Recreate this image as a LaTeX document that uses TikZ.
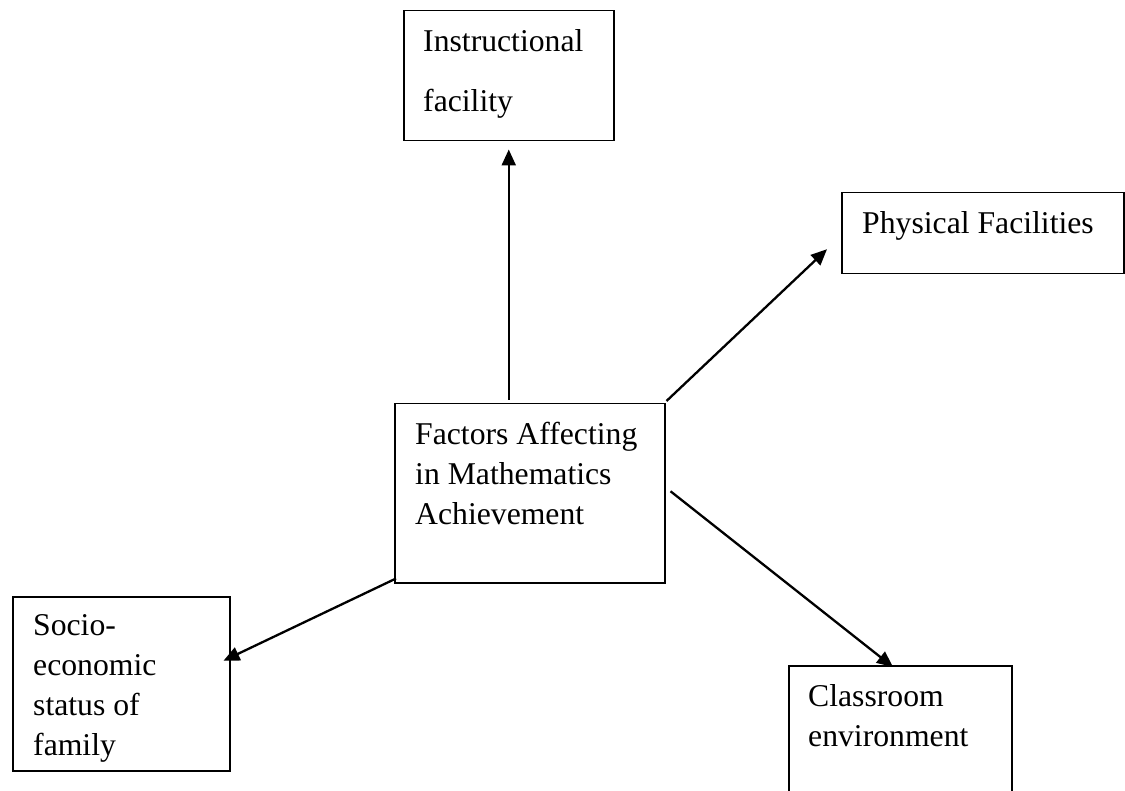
\documentclass[tikz,border=0pt]{standalone}
\usepackage{fontspec}
\setmainfont{Liberation Serif}
\usetikzlibrary{arrows.meta,calc}
\begin{document}
\begin{tikzpicture}[x=1pt,y=-1pt,
  box/.style={draw, line width=1.5pt, inner sep=0pt, anchor=north west},
  lbl/.style={anchor=north west, inner sep=0pt, align=left, font=\fontsize{31.7}{40}\selectfont},
  arr/.style={line width=2.3pt, -{Triangle[length=16pt,width=14pt]}}]
\useasboundingbox (0,0) rectangle (1125,791);
\fill[white] (0,0) rectangle (1125,791);
% boxes
\node[box, minimum width=210pt, minimum height=130pt] (instr) at (403,10) {};
\node[box, minimum width=282pt, minimum height=81pt] (phys) at (841,192) {};
\node[box, minimum width=270pt, minimum height=179pt] (ctr) at (394,403) {};
\node[box, minimum width=217pt, minimum height=174pt] (socio) at (12,596) {};
\node[box, minimum width=223pt, minimum height=140pt] (class) at (788,665) {};
% texts
\node[lbl, font=\fontsize{31.7}{60}\selectfont] (tinstr) at ($(instr.north west)+(20,19)$) {Instructional\\facility};
\node[lbl] (tphys) at ($(phys.north west)+(21,19)$) {Physical Facilities};
\node[lbl] (tctr) at ($(ctr.north west)+(21,19)$) {Factors Affecting\\in Mathematics\\Achievement};
\node[lbl] (tsocio) at ($(socio.north west)+(21,18)$) {Socio-\\economic\\status of\\family};
\node[lbl] (tclass) at ($(class.north west)+(20,19)$) {Classroom\\environment};
% connectors
\draw[arr] ($(instr.south |- ctr.north)+(0,-3)$) -- ($(instr.south)+(0,8)$);
\draw[arr] ($(ctr.north east)+(1,-2)$) -- ($(phys.west)+(-14,16)$);
\draw[arr] ($(ctr.east)+(5,-2)$) -- ($(class.north west)+(105,2)$);
\draw[arr] ($(ctr.south west)+(2,-5)$) -- ($(socio.east)+(-7,-23)$);
\end{tikzpicture}
\end{document}
